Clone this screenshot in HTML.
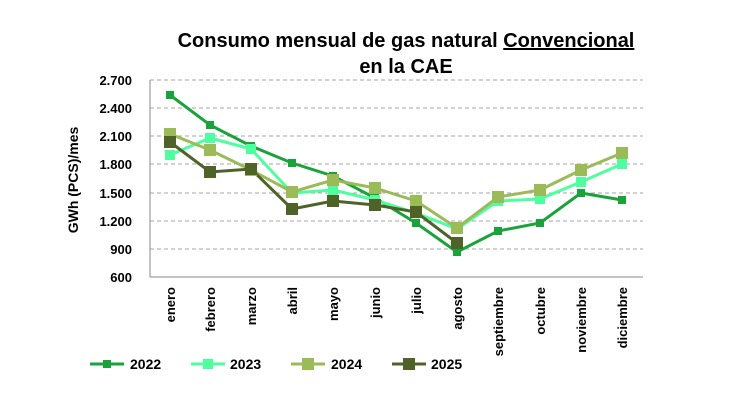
<!DOCTYPE html>
<html><head><meta charset="utf-8"><style>
body{margin:0;background:#fff;}
svg text{font-family:"Liberation Sans",sans-serif;}
</style></head><body>
<svg width="750" height="400" xmlns="http://www.w3.org/2000/svg">
<text x="406" y="47" font-size="20" font-weight="bold" text-anchor="middle">Consumo mensual de gas natural <tspan text-decoration="underline">Convencional</tspan></text>
<text x="406" y="73" font-size="20" font-weight="bold" text-anchor="middle">en la CAE</text>
<g stroke="#a6a6a6" stroke-dasharray="4,3" stroke-width="1">
<line x1="150" x2="643" y1="80" y2="80"/><line x1="150" x2="643" y1="108" y2="108"/>
<line x1="150" x2="643" y1="136" y2="136"/><line x1="150" x2="643" y1="164" y2="164"/>
<line x1="150" x2="643" y1="193" y2="193"/><line x1="150" x2="643" y1="221" y2="221"/>
<line x1="150" x2="643" y1="249" y2="249"/>
</g>
<line x1="150" x2="643" y1="277" y2="277" stroke="#888"/>
<line x1="150" x2="150" y1="80" y2="277" stroke="#888"/>
<g font-size="13" font-weight="bold" text-anchor="end">
<text x="132" y="85">2.700</text><text x="132" y="113">2.400</text><text x="132" y="141">2.100</text>
<text x="132" y="169">1.800</text><text x="132" y="198">1.500</text><text x="132" y="226">1.200</text>
<text x="132" y="254">900</text><text x="132" y="282">600</text>
</g>
<text transform="translate(78,180) rotate(-90)" font-size="14" font-weight="bold" text-anchor="middle">GWh (PCS)/mes</text>
<g font-size="13" font-weight="bold" text-anchor="end">
<text transform="translate(175,287) rotate(-90)">enero</text>
<text transform="translate(215,287) rotate(-90)">febrero</text>
<text transform="translate(256,287) rotate(-90)">marzo</text>
<text transform="translate(297,287) rotate(-90)">abril</text>
<text transform="translate(338,287) rotate(-90)">mayo</text>
<text transform="translate(380,287) rotate(-90)">junio</text>
<text transform="translate(421,287) rotate(-90)">julio</text>
<text transform="translate(462,287) rotate(-90)">agosto</text>
<text transform="translate(503,287) rotate(-90)">septiembre</text>
<text transform="translate(545,287) rotate(-90)">octubre</text>
<text transform="translate(586,287) rotate(-90)">noviembre</text>
<text transform="translate(627,287) rotate(-90)">diciembre</text>
</g>
<g fill="none" stroke-width="3">
<polyline stroke="#1aa33a" points="170,95 210,125 251,146 292,163 333,176 375,198 416,223 457,252 498,231 540,223 581,193 622,200"/>
<polyline stroke="#4dff9f" points="170,155 210,138 251,149 292,193 333,190 375,200 416,213 457,229 498,201 540,199 581,182 622,164"/>
<polyline stroke="#9bbb59" points="170,134 210,150 251,170 292,192 333,180 375,188 416,201 457,228 498,197 540,190 581,170 622,153"/>
<polyline stroke="#4f6228" points="170,142 210,172 251,169 292,209 333,201 375,205 416,212 457,243"/>
</g>
<g fill="#1aa33a"><rect x="166" y="91" width="8" height="8"/><rect x="206" y="121" width="8" height="8"/><rect x="247" y="142" width="8" height="8"/><rect x="288" y="159" width="8" height="8"/><rect x="329" y="172" width="8" height="8"/><rect x="371" y="194" width="8" height="8"/><rect x="412" y="219" width="8" height="8"/><rect x="453" y="248" width="8" height="8"/><rect x="494" y="227" width="8" height="8"/><rect x="536" y="219" width="8" height="8"/><rect x="577" y="189" width="8" height="8"/><rect x="618" y="196" width="8" height="8"/></g>
<g fill="#4dff9f"><rect x="165" y="150" width="10" height="10"/><rect x="205" y="133" width="10" height="10"/><rect x="246" y="144" width="10" height="10"/><rect x="287" y="188" width="10" height="10"/><rect x="328" y="185" width="10" height="10"/><rect x="370" y="195" width="10" height="10"/><rect x="411" y="208" width="10" height="10"/><rect x="452" y="224" width="10" height="10"/><rect x="493" y="196" width="10" height="10"/><rect x="535" y="194" width="10" height="10"/><rect x="576" y="177" width="10" height="10"/><rect x="617" y="159" width="10" height="10"/></g>
<g fill="#9bbb59"><rect x="164" y="128" width="12" height="12"/><rect x="204" y="144" width="12" height="12"/><rect x="245" y="164" width="12" height="12"/><rect x="286" y="186" width="12" height="12"/><rect x="327" y="174" width="12" height="12"/><rect x="369" y="182" width="12" height="12"/><rect x="410" y="195" width="12" height="12"/><rect x="451" y="222" width="12" height="12"/><rect x="492" y="191" width="12" height="12"/><rect x="534" y="184" width="12" height="12"/><rect x="575" y="164" width="12" height="12"/><rect x="616" y="147" width="12" height="12"/></g>
<g fill="#4f6228"><rect x="164" y="136" width="12" height="12"/><rect x="204" y="166" width="12" height="12"/><rect x="245" y="163" width="12" height="12"/><rect x="286" y="203" width="12" height="12"/><rect x="327" y="195" width="12" height="12"/><rect x="369" y="199" width="12" height="12"/><rect x="410" y="206" width="12" height="12"/><rect x="451" y="237" width="12" height="12"/></g>
<g font-size="14" font-weight="bold">
<line x1="90" x2="124" y1="364" y2="364" stroke="#1aa33a" stroke-width="3"/><rect x="103" y="360" width="8" height="8" fill="#1aa33a"/><text x="130" y="369">2022</text>
<line x1="191" x2="225" y1="364" y2="364" stroke="#4dff9f" stroke-width="3"/><rect x="203" y="359" width="10" height="10" fill="#4dff9f"/><text x="230" y="369">2023</text>
<line x1="291" x2="325" y1="364" y2="364" stroke="#9bbb59" stroke-width="3"/><rect x="302" y="358" width="12" height="12" fill="#9bbb59"/><text x="331" y="369">2024</text>
<line x1="392" x2="426" y1="364" y2="364" stroke="#4f6228" stroke-width="3"/><rect x="403" y="358" width="12" height="12" fill="#4f6228"/><text x="431" y="369">2025</text>
</g>
</svg>
</body></html>
